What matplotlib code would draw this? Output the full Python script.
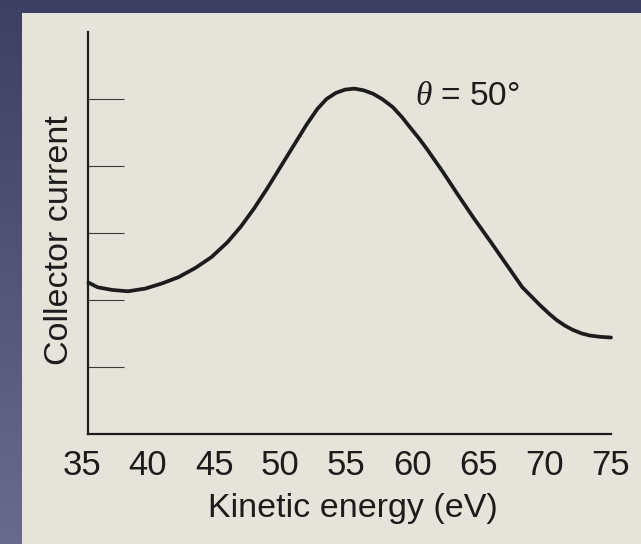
"""
Collector current vs kinetic energy (Davisson-Germer style plot, theta = 50 deg).
"""

import matplotlib
matplotlib.use("Agg")
import matplotlib.pyplot as plt
import numpy as np
from matplotlib.patches import Rectangle

# curve: kinetic energy (eV) and collector current (tick units)
energy = [35.5, 36.2, 37.3, 38.5, 39.8, 41.1, 42.3, 43.6, 44.8, 46.0, 47.0,
          48.0, 49.0, 50.0, 51.0, 52.0, 52.8, 53.5, 54.2, 54.9, 55.6, 56.3,
          57.0, 57.7, 58.5, 59.2, 59.8, 60.5, 61.1, 62.3, 63.4, 64.6, 65.9,
          67.1, 68.3, 69.0, 69.6, 70.3, 70.9, 71.5, 72.1, 72.8, 73.4, 74.2,
          75.0]
current = [2.26, 2.19, 2.15, 2.13, 2.17, 2.25, 2.34, 2.48, 2.64, 2.86, 3.09,
           3.36, 3.66, 3.98, 4.30, 4.62, 4.85, 5.00, 5.09, 5.14, 5.155, 5.13,
           5.08, 5.00, 4.88, 4.73, 4.58, 4.41, 4.25, 3.91, 3.58, 3.23, 2.87,
           2.53, 2.19, 2.05, 1.93, 1.80, 1.70, 1.62, 1.555, 1.50, 1.47, 1.45,
           1.44]

x_labels = [35, 40, 45, 50, 55, 60, 65, 70, 75]
x_marks = [40, 45, 50, 55, 60, 65, 70]
y_marks = [1, 2, 3, 4, 5]
annotation = r"$\theta$ = 50°"

plt.rcParams["font.family"] = ["Liberation Sans", "DejaVu Sans"]
plt.rcParams["mathtext.fontset"] = "custom"
plt.rcParams["mathtext.it"] = "Liberation Serif:italic"

W, H = 641, 544
fig = plt.figure(figsize=(W / 100, H / 100), dpi=100)

# dark backdrop with the paper sheet on top
bg = fig.add_axes([0, 0, 1, 1], zorder=-10)
grad = np.linspace(0, 1, 256)[:, None]
bg.imshow(grad, aspect="auto", extent=[0, 1, 0, 1],
          cmap=matplotlib.colors.LinearSegmentedColormap.from_list(
              "bg", ["#686b8b", "#3d3f63"]), origin="lower")
bg.add_patch(Rectangle((22 / W, 0), 1 - 22 / W, 1 - 13 / H,
                       facecolor="#e6e4da", edgecolor="none"))
bg.set_xlim(0, 1)
bg.set_ylim(0, 1)
bg.axis("off")

ax = fig.add_axes([81.8 / W, (H - 434) / H, 531.8 / W, 402 / H])
ax.patch.set_alpha(0)
ax.set_xlim(35, 75.2)
ax.set_ylim(0, 6)

ax.plot(energy, current, color="#1c1c1c", lw=2.7, solid_capstyle="round",
        solid_joinstyle="round")

for side in ("top", "right"):
    ax.spines[side].set_visible(False)
ax.spines["left"].set_position(("data", 35.5))
ax.spines["left"].set_bounds(0, 6)
ax.spines["bottom"].set_bounds(35.5, 75.0)
for side in ("left", "bottom"):
    ax.spines[side].set_linewidth(1.6)
    ax.spines[side].set_color("#1c1c1c")

# labels only on major x ticks, marks as minor ticks
ax.set_xticks(x_labels)
ax.set_xticklabels([str(v) for v in x_labels])
ax.tick_params(axis="x", which="major", length=0, pad=11, labelsize=25,
               labelcolor="#1c1c1c")
ax.set_xticks(x_marks, minor=True)
ax.tick_params(axis="x", which="minor", direction="in", length=20, width=1.0,
               color="#2a2a2a")

ax.set_yticks(y_marks)
ax.set_yticklabels([])
ax.tick_params(axis="y", which="major", direction="in", length=26, width=0.8,
               color="#3a3a3a")

ax.text(60.2, 5.03, annotation, fontsize=24, ha="left", va="center",
        color="#1c1c1c")

fig.text(353 / W, 1 - 508 / H, "Kinetic energy (eV)", fontsize=24.5,
         ha="center", va="center", color="#1c1c1c")
fig.text(60 / W, 1 - 240 / H, "Collector current", fontsize=24.5,
         rotation=90, ha="center", va="center", color="#1c1c1c")

fig.savefig("out.png", dpi=100)
plt.close(fig)
